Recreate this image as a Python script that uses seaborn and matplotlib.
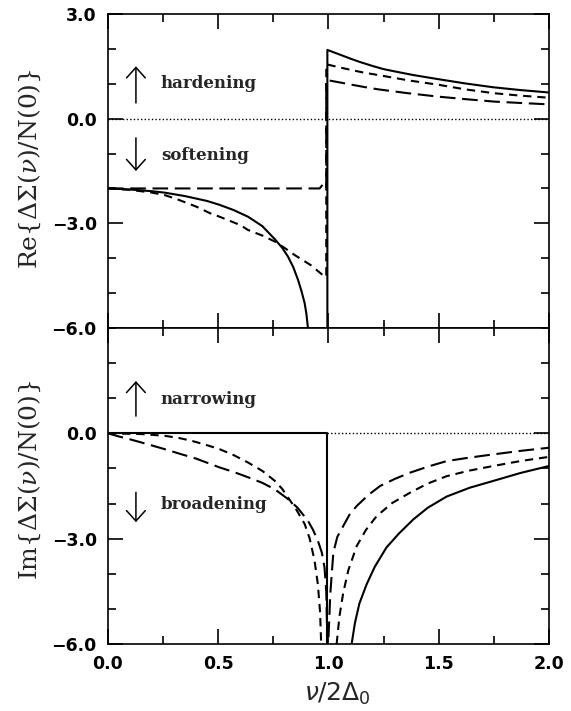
import matplotlib
matplotlib.use("Agg")
import matplotlib.pyplot as plt
from matplotlib.ticker import MultipleLocator, FixedLocator
import seaborn as sns

# ---- Re{ΔΣ(ν)/N(0)} : three coupling cases (solid, short dash, long dash) ----
re_solid_lo_x = [0.0, 0.1, 0.2, 0.257, 0.35, 0.45, 0.506, 0.57, 0.635, 0.7, 0.756, 0.79, 0.816,
                 0.84, 0.862, 0.878, 0.892, 0.9, 0.907]
re_solid_lo_y = [-2.0, -2.03, -2.08, -2.12, -2.22, -2.36, -2.47, -2.62, -2.81, -3.08, -3.45, -3.7, -3.95,
                 -4.25, -4.62, -4.95, -5.29, -5.6, -6.0]
re_solid_hi_x = [0.995, 0.995, 1.05, 1.1, 1.14, 1.2, 1.25, 1.32, 1.385, 1.5, 1.62, 1.747, 1.87, 2.0]
re_solid_hi_y = [-6.0, 1.97, 1.84, 1.72, 1.63, 1.51, 1.42, 1.33, 1.25, 1.13, 1.01, 0.90, 0.82, 0.75]

re_short_x = [0.0, 0.1, 0.2, 0.257, 0.31, 0.4, 0.463, 0.506, 0.6, 0.635, 0.7, 0.756, 0.8, 0.847, 0.92, 0.983,
              0.99, 0.99, 1.05, 1.1, 1.16, 1.226, 1.36, 1.5, 1.62, 1.75, 1.87, 2.0]
re_short_y = [-2.0, -2.04, -2.12, -2.19, -2.3, -2.52, -2.71, -2.81, -3.05, -3.19, -3.35, -3.52, -3.7, -3.91, -4.2, -4.53,
              -4.53, 1.56, 1.47, 1.40, 1.32, 1.25, 1.1, 0.97, 0.84, 0.73, 0.66, 0.60]

re_long_x = [0.0, 0.96, 0.975, 0.99, 0.99, 1.05, 1.1, 1.16, 1.226, 1.36, 1.5, 1.62, 1.75, 1.87, 2.0]
re_long_y = [-2.0, -2.0, -1.88, -2.0, 1.11, 1.04, 0.98, 0.91, 0.84, 0.73, 0.63, 0.56, 0.49, 0.45, 0.41]

# ---- Im{ΔΣ(ν)/N(0)} ----
im_solid_lo_x = [0.0, 0.995, 0.995]
im_solid_lo_y = [0.0, 0.0, -6.0]
im_solid_hi_x = [1.105, 1.12, 1.14, 1.173, 1.21, 1.263, 1.32, 1.385, 1.45, 1.536, 1.64, 1.75, 1.87, 2.0]
im_solid_hi_y = [-6.0, -5.4, -4.85, -4.3, -3.8, -3.25, -2.85, -2.45, -2.12, -1.8, -1.55, -1.35, -1.13, -0.93]

im_short_lo_x = [0.0, 0.15, 0.257, 0.32, 0.378, 0.44, 0.506, 0.57, 0.635, 0.7, 0.756, 0.79, 0.816,
                 0.855, 0.892, 0.915, 0.937, 0.952, 0.962, 0.967]
im_short_lo_y = [0.0, -0.02, -0.07, -0.13, -0.21, -0.32, -0.45, -0.62, -0.83, -1.07, -1.35, -1.58, -1.82,
                 -2.18, -2.58, -3.0, -3.63, -4.3, -5.1, -6.0]
im_short_hi_x = [1.037, 1.05, 1.067, 1.09, 1.128, 1.17, 1.218, 1.29, 1.37, 1.45, 1.536, 1.64, 1.747, 1.87, 2.0]
im_short_hi_y = [-6.0, -5.2, -4.54, -3.9, -3.21, -2.75, -2.36, -1.98, -1.69, -1.43, -1.22, -1.06, -0.93, -0.79, -0.67]

im_long_x = [0.0, 0.05, 0.1, 0.18, 0.257, 0.33, 0.4, 0.506, 0.57, 0.635, 0.7, 0.756, 0.816, 0.86, 0.907,
             0.93, 0.952, 0.97, 0.982, 0.99, 0.995,
             0.999, 1.008, 1.022, 1.04, 1.067, 1.095, 1.128, 1.18, 1.234, 1.3, 1.37, 1.45, 1.536, 1.64,
             1.747, 1.87, 2.0]
im_long_y = [0.0, -0.09, -0.17, -0.31, -0.45, -0.59, -0.72, -0.97, -1.1, -1.25, -1.41, -1.59, -1.87, -2.12, -2.49,
             -2.75, -3.06, -3.4, -3.82, -4.5, -6.0,
             -6.0, -4.6, -3.4, -2.95, -2.64, -2.32, -2.07, -1.76, -1.5, -1.3, -1.12, -0.95, -0.79, -0.69,
             -0.60, -0.5, -0.41]

x_ticks = [0.0, 0.5, 1.0, 1.5, 2.0]
x_tick_labels = ["0.0", "0.5", "1.0", "1.5", "2.0"]
re_y_ticks = [3.0, 0.0, -3.0, -6.0]
re_y_tick_labels = ["3.0", "0.0", "\u22123.0", "\u22126.0"]
im_y_ticks = [0.0, -3.0, -6.0]
im_y_tick_labels = ["0.0", "\u22123.0", "\u22126.0"]

sns.set_theme(style="ticks")
plt.rcParams["font.family"] = ["DejaVu Sans"]
plt.rcParams["axes.linewidth"] = 1.2
plt.rcParams["lines.scale_dashes"] = True
plt.rcParams["lines.solid_joinstyle"] = "round"
plt.rcParams["lines.dash_joinstyle"] = "round"

LW = 1.5
SOLID = "-"
SHORT = (0, (4.0, 2.8))
LONG = (0, (7.5, 3.2))
DOT = (0, (1.0, 1.6))

fig = plt.figure(figsize=(5.71, 7.11), dpi=100)
fig.patch.set_facecolor("white")
ax1 = fig.add_axes([0.189, 0.5387, 0.7725, 0.4416])
ax2 = fig.add_axes([0.189, 0.0942, 0.7725, 0.4445])


def curve(ax, xs, ys, style):
    sns.lineplot(x=xs, y=ys, ax=ax, sort=False, estimator=None, color="black",
                 linewidth=LW, linestyle=style, legend=False)


# top panel
ax1.hlines(0.0, 0.0, 2.0, colors="black", linewidth=1.0, linestyles=[DOT])
curve(ax1, re_solid_lo_x, re_solid_lo_y, SOLID)
curve(ax1, re_solid_hi_x, re_solid_hi_y, SOLID)
curve(ax1, re_short_x, re_short_y, SHORT)
curve(ax1, re_long_x, re_long_y, LONG)

# bottom panel
ax2.hlines(0.0, 0.995, 2.0, colors="black", linewidth=1.0, linestyles=[DOT])
curve(ax2, im_solid_lo_x, im_solid_lo_y, SOLID)
curve(ax2, im_solid_hi_x, im_solid_hi_y, SOLID)
curve(ax2, im_short_lo_x, im_short_lo_y, SHORT)
curve(ax2, im_short_hi_x, im_short_hi_y, SHORT)
curve(ax2, im_long_x, im_long_y, LONG)

tick_font = dict(fontsize=12.5, fontweight="bold", family="DejaVu Sans")
for ax in (ax1, ax2):
    ax.set_xlim(0.0, 2.0)
    ax.set_ylim(-6.0, 3.0)
    ax.xaxis.set_major_locator(FixedLocator(x_ticks))
    ax.xaxis.set_minor_locator(MultipleLocator(0.25))
    ax.yaxis.set_minor_locator(MultipleLocator(1.0))
    ax.tick_params(which="both", direction="in", top=True, right=True,
                   bottom=True, left=True, width=1.2, colors="black")
    ax.tick_params(which="major", length=11, pad=8)
    ax.tick_params(which="minor", length=6)
    ax.set_xlabel("")
    ax.set_ylabel("")
    for s in ax.spines.values():
        s.set_color("black")
        s.set_linewidth(1.2)

ax1.set_yticks(re_y_ticks)
ax1.set_yticklabels(re_y_tick_labels, **tick_font)
ax1.set_xticklabels([])
ax2.set_yticks(im_y_ticks)
ax2.set_yticklabels(im_y_tick_labels, **tick_font)
ax2.set_xticks(x_ticks)
ax2.set_xticklabels(x_tick_labels, **tick_font)

# annotations
note_font = dict(fontsize=12, fontweight="bold", family="DejaVu Serif", va="center", ha="left")
arrow = dict(arrowstyle="->,head_length=0.5,head_width=0.45", lw=1.1, color="black",
             mutation_scale=15, shrinkA=0, shrinkB=0)
ax1.annotate("", xy=(0.127, 1.5), xytext=(0.127, 0.45), arrowprops=arrow)
ax1.text(0.24, 1.0, "hardening", **note_font)
ax1.annotate("", xy=(0.127, -1.5), xytext=(0.127, -0.55), arrowprops=arrow)
ax1.text(0.24, -1.05, "softening", **note_font)
ax2.annotate("", xy=(0.127, 1.49), xytext=(0.127, 0.49), arrowprops=arrow)
ax2.text(0.24, 0.97, "narrowing", **note_font)
ax2.annotate("", xy=(0.127, -2.53), xytext=(0.127, -1.68), arrowprops=arrow)
ax2.text(0.24, -2.02, "broadening", **note_font)

# axis titles
fig.text(0.053, 0.763, r"Re{ΔΣ($\nu$)/N(0)}", rotation=90, ha="center", va="center",
         fontsize=18, family="DejaVu Serif", math_fontfamily="dejavuserif")
fig.text(0.053, 0.325, r"Im{ΔΣ($\nu$)/N(0)}", rotation=90, ha="center", va="center",
         fontsize=18, family="DejaVu Serif", math_fontfamily="dejavuserif")
fig.text(0.59, 0.024, r"$\nu/2\Delta_0$", ha="center", va="center", fontsize=18,
         math_fontfamily="dejavusans")

fig.savefig("out.png", dpi=100, facecolor="white")
